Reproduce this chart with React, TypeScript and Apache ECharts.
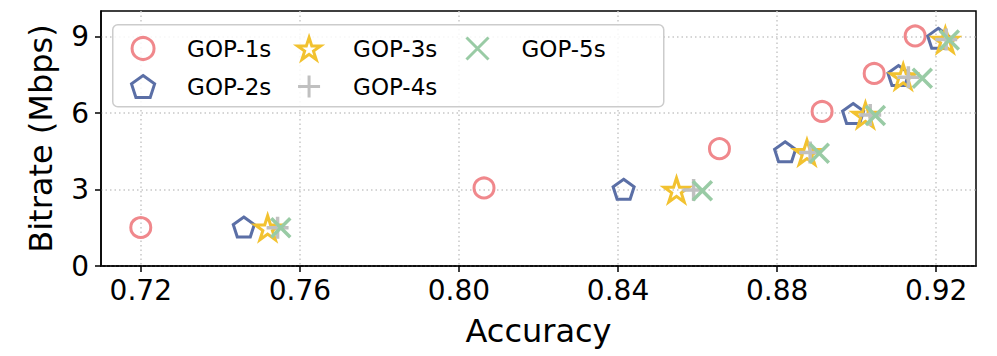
import React, { useEffect, useRef } from "react";
import * as echarts from "echarts";

const seriesNames = ["GOP-1s", "GOP-2s", "GOP-3s", "GOP-4s", "GOP-5s"];
const acc1 = [0.72, 0.8063, 0.8655, 0.8913, 0.9044, 0.9147];
const rate1 = [1.51, 3.06, 4.6, 6.06, 7.55, 9.02];
const acc2 = [0.7459, 0.8414, 0.882, 0.8991, 0.9105, 0.9205];
const rate2 = [1.53, 3.01, 4.48, 5.98, 7.47, 8.93];
const acc3 = [0.7519, 0.8547, 0.8875, 0.9022, 0.9117, 0.9223];
const rate3 = [1.5, 2.98, 4.46, 5.92, 7.43, 8.86];
const acc4 = [0.7544, 0.859, 0.8883, 0.9034, 0.913, 0.9225];
const rate4 = [1.5, 2.98, 4.45, 5.92, 7.4, 8.88];
const acc5 = [0.7552, 0.8612, 0.8906, 0.9047, 0.9165, 0.9233];
const rate5 = [1.5, 2.95, 4.42, 5.9, 7.36, 8.86];
const xTicks = [0.72, 0.76, 0.8, 0.84, 0.88, 0.92];
const yTicks = [0, 3, 6, 9];

const FONT = "DejaVu Sans";
const colors = ["#F0888C", "#5B6FA6", "#F2C230", "#C0C0C0", "#99CBA5"];
const PENT = "path://M0,-1L0.951,-0.309L0.588,0.809L-0.588,0.809L-0.951,-0.309Z";
const STAR =
  "path://M0,-1L0.2245,-0.309L0.951,-0.309L0.3633,0.118L0.588,0.809L0,0.382L-0.588,0.809L-0.3633,0.118L-0.951,-0.309L-0.2245,-0.309Z";
const PLUS = "path://M-1,0L1,0M0,-1L0,1";
const CROSS = "path://M-1,-1L1,1M-1,1L1,-1";
const symbols = ["circle", PENT, STAR, PLUS, CROSS];
const sizes: any[] = [20, [21, 20], [25, 24], 22, 19];
const widths = [3, 3, 3, 3.5, 3.5];

export default function App() {
  const ref = useRef<HTMLDivElement>(null);
  useEffect(() => {
    if (!ref.current) return;
    const chart = echarts.init(ref.current, null, { renderer: "svg" });
    const accs = [acc1, acc2, acc3, acc4, acc5];
    const rates = [rate1, rate2, rate3, rate4, rate5];
    const series = seriesNames.map((name, i) => ({
      type: "scatter",
      name,
      data: accs[i].map((a, j) => [a, rates[i][j]]),
      symbol: symbols[i],
      symbolSize: sizes[i],
      itemStyle: { color: "none", borderColor: colors[i], borderWidth: widths[i], opacity: 1 },
      emphasis: { disabled: true },
    }));
    const legendBase = {
      orient: "vertical",
      top: 35,
      padding: 0,
      itemWidth: 78,
      itemHeight: 22,
      itemGap: 11,
      selectedMode: false,
      itemStyle: { borderWidth: 3, opacity: 1 },
      textStyle: { fontFamily: FONT, fontSize: 23, color: "#000" },
    };
    chart.setOption({
      animation: false,
      grid: {
        left: 101,
        right: 21,
        top: 11,
        bottom: 90,
        show: true,
        borderColor: "#000",
        borderWidth: 1.5,
        backgroundColor: "transparent",
        outerBoundsMode: "none",
      },
      xAxis: {
        type: "value",
        min: 0.71,
        max: 0.93,
        name: "Accuracy",
        nameLocation: "middle",
        nameGap: 49,
        nameTextStyle: { fontFamily: FONT, fontSize: 32, color: "#000" },
        axisLine: { show: true, lineStyle: { color: "#000", width: 1.5 } },
        axisTick: { show: true, length: 6, customValues: xTicks, lineStyle: { color: "#000", width: 1.5 } },
        axisLabel: {
          customValues: xTicks,
          formatter: (v: number) => v.toFixed(2),
          fontFamily: FONT,
          fontSize: 28,
          color: "#000",
          margin: 10,
        },
        splitLine: { show: true, lineStyle: { color: "#c8c8c8", width: 1.5, type: [1.5, 3] } },
      },
      yAxis: {
        type: "value",
        min: 0,
        max: 10,
        name: "Bitrate (Mbps)",
        nameLocation: "middle",
        nameGap: 44,
        nameTextStyle: { fontFamily: FONT, fontSize: 32, color: "#000" },
        axisLine: { show: true, lineStyle: { color: "#000", width: 1.5 } },
        axisTick: { show: true, length: 6, customValues: yTicks, lineStyle: { color: "#000", width: 1.5 } },
        axisLabel: {
          customValues: yTicks,
          fontFamily: FONT,
          fontSize: 28,
          color: "#000",
          margin: 12,
        },
        splitLine: { show: true, lineStyle: { color: "#c8c8c8", width: 1.5, type: [1.5, 3] } },
      },
      legend: [
        { ...legendBase, left: 129, data: [seriesNames[0], seriesNames[1]] },
        { ...legendBase, left: 295, data: [seriesNames[2], seriesNames[3]] },
        { ...legendBase, left: 464, data: [seriesNames[4]] },
      ],
      graphic: [
        {
          type: "rect",
          left: 112,
          top: 24,
          z: 3,
          shape: { width: 551, height: 82, r: 5 },
          style: { fill: "rgba(255,255,255,0.85)", stroke: "#cccccc", lineWidth: 1.5 },
        },
      ],
      series,
    });
    return () => chart.dispose();
  }, []);
  return (
    <div
      ref={ref}
      style={{ position: "absolute", left: 0, top: 0, width: 997, height: 356 }}
    />
  );
}
